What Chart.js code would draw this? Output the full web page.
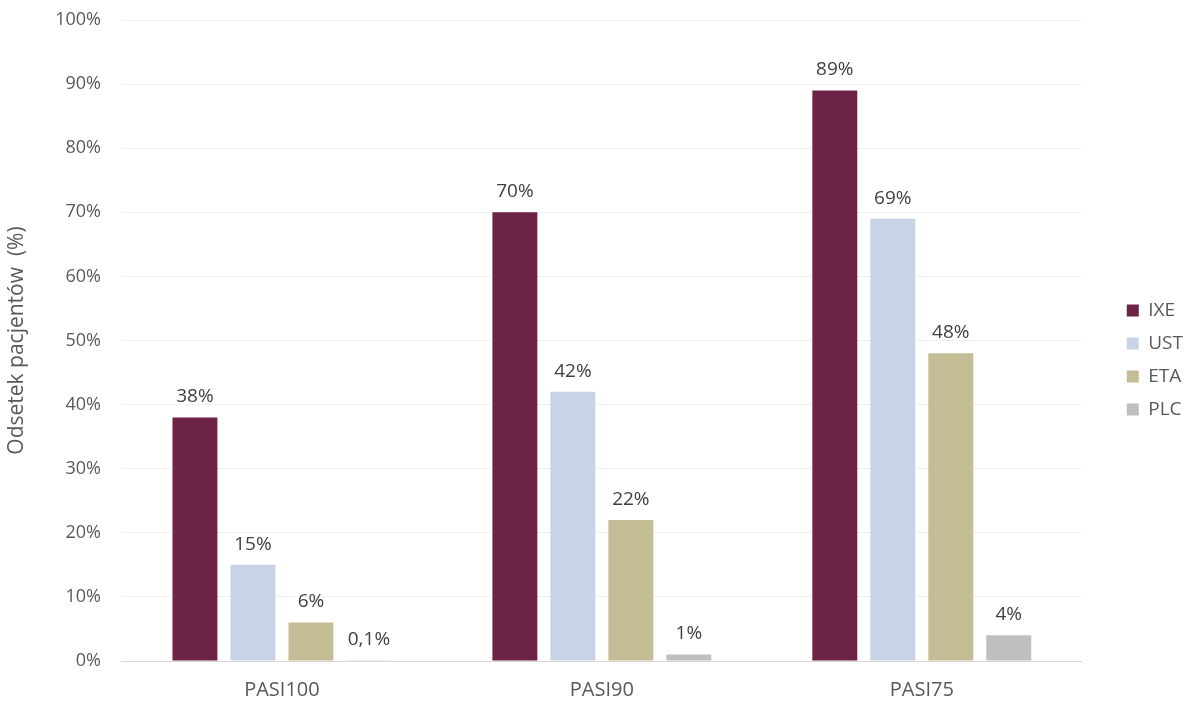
<!DOCTYPE html>
<html>
<head>
<meta charset="utf-8">
<script src="https://cdn.jsdelivr.net/npm/chart.js@4/dist/chart.umd.min.js"></script>
<style>
  html, body { margin: 0; padding: 0; background: #fff; }
  #wrap { width: 1191px; height: 708px; }
</style>
</head>
<body>
<div id="wrap"><canvas id="chart"></canvas></div>
<script>
// Categories and series
const categories = ["PASI100", "PASI90", "PASI75"];
const ixeValues = [38, 70, 89];
const ustValues = [15, 42, 69];
const etaValues = [6, 22, 48];
const plcValues = [0.1, 1, 4];
const yTicks = [0, 10, 20, 30, 40, 50, 60, 70, 80, 90, 100];

const FONT = "'Open Sans', 'Noto Sans', sans-serif";
const RIGHT_PAD = 29;
const LEGEND_SHIFT = 31; // legend sits in the right padding, away from the plot

// Polish decimal comma, e.g. 0,1%
const formatPct = (v) => String(v).replace(".", ",") + "%";

// Draws the value above every bar
const barLabels = {
    id: "barLabels",
    afterDatasetsDraw(chart) {
        const ctx = chart.ctx;
        ctx.save();
        ctx.font = "19px " + FONT;
        ctx.fillStyle = "#404040";
        ctx.textAlign = "center";
        ctx.textBaseline = "bottom";
        chart.data.datasets.forEach((ds, i) => {
            chart.getDatasetMeta(i).data.forEach((bar, j) => {
                ctx.fillText(formatPct(ds.data[j]), bar.x, bar.y - 11);
            });
        });
        ctx.restore();
    }
};

// Move the legend box into the right padding
const legendShift = {
    id: "legendShift",
    afterLayout(chart) {
        chart.legend.left += LEGEND_SHIFT;
        chart.legend.right += LEGEND_SHIFT;
    }
};

const makeSet = (label, data, color) => ({
    label: label,
    data: data,
    backgroundColor: color,
    borderWidth: 0,
    categoryPercentage: 0.725,
    barPercentage: 0.775
});

new Chart(document.getElementById("chart").getContext("2d"), {
    type: "bar",
    data: {
        labels: categories,
        datasets: [
            makeSet("IXE", ixeValues, "#6d2346"),
            makeSet("UST", ustValues, "#c9d3e6"),
            makeSet("ETA", etaValues, "#c4bc94"),
            makeSet("PLC", plcValues, "#bfbfbf")
        ]
    },
    options: {
        responsive: true,
        maintainAspectRatio: false,
        animation: false,
        devicePixelRatio: 1,
        layout: { padding: { top: 12, right: RIGHT_PAD, left: 0, bottom: 0 } },
        plugins: {
            tooltip: { enabled: false },
            legend: {
                position: "right",
                labels: {
                    font: { family: FONT, size: 19 },
                    color: "#595959",
                    boxWidth: 12,
                    boxHeight: 12,
                    padding: 14
                }
            }
        },
        scales: {
            x: {
                grid: { display: false, drawTicks: false },
                border: { color: "#d9d9d9", width: 1 },
                ticks: { font: { family: FONT, size: 20 }, color: "#595959", padding: 17 },
                afterFit: (scale) => { scale.height = 47; }
            },
            y: {
                min: 0,
                max: 100,
                afterBuildTicks: (axis) => { axis.ticks = yTicks.map(v => ({ value: v })); },
                afterFit: (scale) => { scale.paddingTop = 20; scale.paddingBottom = 11; },
                grid: { color: "#f0f0f0", drawTicks: false },
                border: { display: false },
                ticks: {
                    font: { family: FONT, size: 18 },
                    color: "#595959",
                    padding: 21,
                    callback: (v) => v + "%"
                },
                title: {
                    display: true,
                    text: "Odsetek pacjentów  (%)",
                    font: { family: FONT, size: 21 },
                    color: "#595959",
                    padding: { bottom: 5 }
                }
            }
        }
    },
    plugins: [barLabels, legendShift]
});
</script>
</body>
</html>
